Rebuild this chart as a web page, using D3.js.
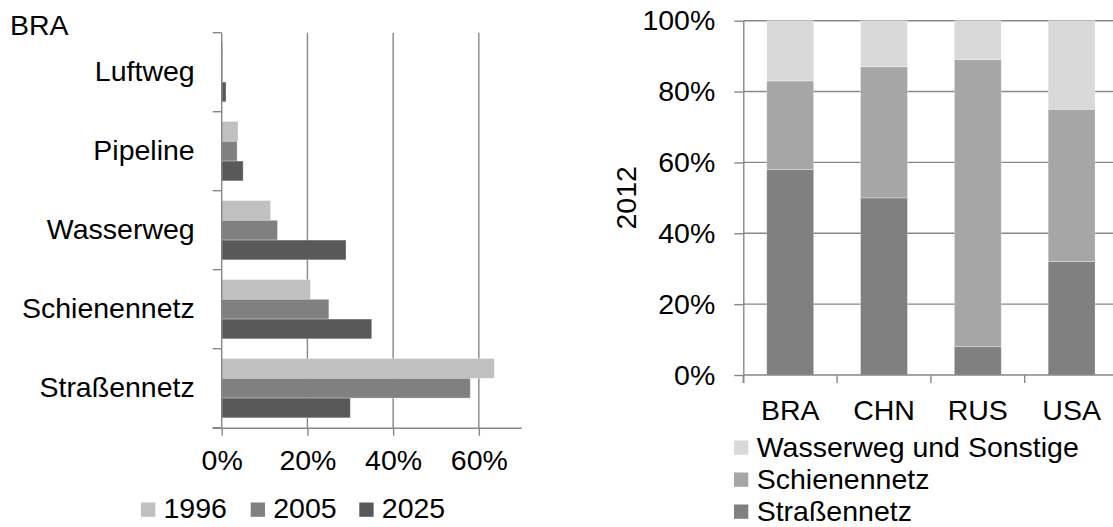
<!DOCTYPE html>
<html>
<head>
<meta charset="utf-8">
<script src="https://cdn.jsdelivr.net/npm/d3@7"></script>
<style>
  html, body { margin: 0; padding: 0; background: #fff; }
  svg { display: block; }
  text { font-family: "Liberation Sans", Arial, sans-serif; fill: #000; }
</style>
</head>
<body>
<svg id="chart" width="1113" height="527"></svg>
<script>
// Left panel: modal split for BRA by transport mode
const modes = ["Luftweg", "Pipeline", "Wasserweg", "Schienennetz", "Straßennetz"];
const years = ["1996", "2005", "2025"];
const share1996 = [0.3, 3.8, 11.4, 20.7, 63.6];
const share2005 = [0.2, 3.6, 13.0, 25.0, 58.0];
const share2025 = [1.0, 5.0, 29.0, 35.0, 30.0];
const leftTicks = [0, 20, 40, 60];

// Right panel: 2012 stacked shares per country
const countries = ["BRA", "CHN", "RUS", "USA"];
const layers = ["Straßennetz", "Schienennetz", "Wasserweg und Sonstige"];
const road2012 = [58, 50, 8, 32];
const rail2012 = [25, 37, 81, 43];
const water2012 = [17, 13, 11, 25];
const rightTicks = [0, 20, 40, 60, 80, 100];

const yearColors = ["#c0c0c0", "#808080", "#595959"];
const layerColors = ["#808080", "#a6a6a6", "#d9d9d9"];
const axisColor = "#878787";
const fontSize = 28.5;
const fontFamily = "Liberation Sans, Arial, sans-serif";

const svg = d3.select("#chart");

/* ---------------- Left panel ---------------- */
const L = { x0: 221.7, x1: 521.7, y0: 32.7, y1: 427.7 };
const xL = d3.scaleLinear().domain([0, 70]).range([L.x0, L.x1]);
const yL = d3.scaleBand().domain(modes).range([L.y0, L.y1]).padding(0);
const yInner = d3.scaleBand().domain(years).range([0, yL.bandwidth()])
  .paddingInner(0).paddingOuter(0.5);

const leftData = modes.map((m, i) => ({
  mode: m,
  values: [share1996[i], share2005[i], share2025[i]]
}));

const gL = svg.append("g");

// vertical gridlines
gL.selectAll("line.grid").data(leftTicks.filter(t => t > 0)).join("line")
  .attr("x1", d => xL(d)).attr("x2", d => xL(d))
  .attr("y1", L.y0).attr("y2", L.y1)
  .attr("stroke", axisColor).attr("stroke-width", 1.4);

// bars
const groups = gL.selectAll("g.mode").data(leftData).join("g")
  .attr("transform", d => `translate(0,${yL(d.mode)})`);
groups.selectAll("rect").data(d => d.values.map((v, j) => ({ year: years[j], v, j }))).join("rect")
  .attr("x", xL(0))
  .attr("y", d => yInner(d.year))
  .attr("width", d => xL(d.v) - xL(0))
  .attr("height", yInner.bandwidth())
  .attr("fill", d => yearColors[d.j])
  .attr("stroke", "#fff").attr("stroke-opacity", 0.35).attr("stroke-width", 0.8);

// category axis (ticks at band boundaries)
const bounds = modes.map(m => yL(m)).concat([L.y1]);
gL.append("line").attr("x1", xL(0)).attr("x2", xL(0)).attr("y1", L.y0).attr("y2", L.y1)
  .attr("stroke", axisColor).attr("stroke-width", 1.4);
gL.selectAll("line.ytick").data(bounds).join("line")
  .attr("x1", xL(0) - 9).attr("x2", xL(0))
  .attr("y1", d => d).attr("y2", d => d)
  .attr("stroke", axisColor).attr("stroke-width", 1.4);
const yAxisL = d3.axisLeft(yL).tickSize(0).tickPadding(27);
const yAxG = gL.append("g").attr("transform", `translate(${xL(0)},0)`).call(yAxisL);
yAxG.select(".domain").remove();
yAxG.selectAll("text").style("font-size", fontSize + "px")
  .style("font-family", fontFamily).attr("fill", "#000");

// value axis
const xAxisL = d3.axisBottom(xL).tickValues(leftTicks).tickFormat(d => d + "%")
  .tickSize(8).tickPadding(14);
const xAxG = gL.append("g").attr("transform", `translate(0,${L.y1})`).call(xAxisL);
xAxG.select(".domain").attr("d", `M${xL(0) - 9},0.5H${L.x1}`)
  .attr("stroke", axisColor).attr("stroke-width", 1.4);
xAxG.selectAll(".tick line").attr("stroke", axisColor).attr("stroke-width", 1.4);
xAxG.selectAll("text").style("font-size", fontSize + "px")
  .style("font-family", fontFamily).attr("fill", "#000");

// title
svg.append("text").attr("x", 10).attr("y", 35).style("font-size", fontSize + "px").text("BRA");

// legend
const legL = svg.append("g");
const legLX = [141, 250.7, 359.3];
years.forEach((y, i) => {
  legL.append("rect").attr("x", legLX[i]).attr("y", 502.5).attr("width", 14.3).attr("height", 14.3)
    .attr("fill", yearColors[i]);
  legL.append("text").attr("x", legLX[i] + 22.5).attr("y", 517.5)
    .style("font-size", fontSize + "px").text(y);
});

/* ---------------- Right panel ---------------- */
const R = { x0: 743.3, x1: 1118.5, y0: 375, y1: 20.7 };
const xR = d3.scaleBand().domain(countries).range([R.x0, R.x1]).paddingInner(0.5).paddingOuter(0.25);
const yR = d3.scaleLinear().domain([0, 100]).range([R.y0, R.y1]);

const gR = svg.append("g");

// horizontal gridlines
gR.selectAll("line.grid").data(rightTicks.filter(t => t > 0)).join("line")
  .attr("x1", R.x0).attr("x2", R.x1)
  .attr("y1", d => yR(d)).attr("y2", d => yR(d))
  .attr("stroke", axisColor).attr("stroke-width", 1.4);

const table = countries.map((c, i) => ({
  country: c,
  "Straßennetz": road2012[i],
  "Schienennetz": rail2012[i],
  "Wasserweg und Sonstige": water2012[i]
}));
const stacked = d3.stack().keys(layers)(table);

gR.selectAll("g.layer").data(stacked).join("g")
  .attr("fill", (d, i) => layerColors[i])
  .selectAll("rect").data(d => d).join("rect")
  .attr("x", d => xR(d.data.country))
  .attr("y", d => yR(d[1]))
  .attr("height", d => yR(d[0]) - yR(d[1]))
  .attr("width", xR.bandwidth())
  .attr("stroke", "#fff").attr("stroke-opacity", 0.35).attr("stroke-width", 0.8);

// y axis
const yAxisR = d3.axisLeft(yR).tickValues(rightTicks).tickFormat(d => d + "%")
  .tickSize(9).tickPadding(19);
const yAxRG = gR.append("g").attr("transform", `translate(${R.x0},0)`).call(yAxisR);
yAxRG.select(".domain").attr("d", `M0.5,${R.y1}V${R.y0 + 8}`)
  .attr("stroke", axisColor).attr("stroke-width", 1.4);
yAxRG.selectAll(".tick line").attr("stroke", axisColor).attr("stroke-width", 1.4);
yAxRG.selectAll("text").style("font-size", fontSize + "px")
  .style("font-family", fontFamily).attr("fill", "#000");

// x axis (ticks at band boundaries)
gR.append("line").attr("x1", R.x0).attr("x2", R.x1).attr("y1", R.y0).attr("y2", R.y0)
  .attr("stroke", axisColor).attr("stroke-width", 1.4);
const xb = countries.map(c => xR(c) - xR.step() * 0.25).concat([R.x1]);
gR.selectAll("line.xtick").data(xb).join("line")
  .attr("x1", d => d).attr("x2", d => d)
  .attr("y1", R.y0).attr("y2", R.y0 + 8)
  .attr("stroke", axisColor).attr("stroke-width", 1.4);
const xAxisR = d3.axisBottom(xR).tickSize(0).tickPadding(25);
const xAxRG = gR.append("g").attr("transform", `translate(0,${R.y0})`).call(xAxisR);
xAxRG.select(".domain").remove();
xAxRG.selectAll("text").style("font-size", fontSize + "px")
  .style("font-family", fontFamily).attr("fill", "#000");

// rotated axis title
svg.append("text")
  .attr("transform", `translate(636,${(R.y0 + R.y1) / 2}) rotate(-90)`)
  .attr("text-anchor", "middle")
  .style("font-size", fontSize + "px").text("2012");

// legend (top layer first), packed so the last row stays inside the frame
const legR = svg.append("g");
[2, 1, 0].forEach((li, row) => {
  const baseline = 457 + row * 32;
  legR.append("rect").attr("x", 734).attr("y", baseline - 16.5).attr("width", 14.3).attr("height", 14.3)
    .attr("fill", layerColors[li]);
  legR.append("text").attr("x", 756.7).attr("y", baseline)
    .style("font-size", fontSize + "px").text(layers[li]);
});
</script>
</body>
</html>
